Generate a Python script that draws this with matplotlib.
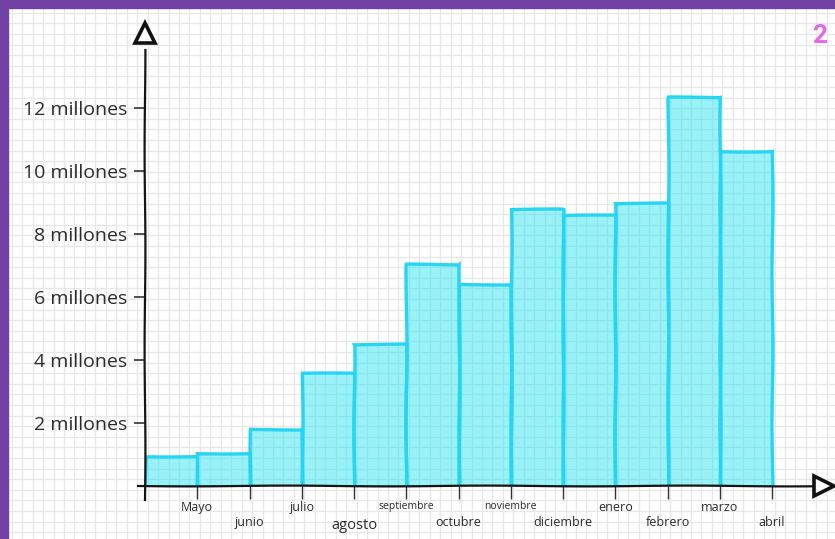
import matplotlib
matplotlib.use("Agg")
import matplotlib.pyplot as plt
from matplotlib.patches import Rectangle
import numpy as np

# datos (en millones)
meses = ["Mayo", "junio", "julio", "agosto", "septiembre", "octubre",
         "noviembre", "diciembre", "enero", "febrero", "marzo", "abril"]
valores = [0.95, 1.05, 1.8, 3.6, 4.5, 7.05, 6.4, 8.8, 8.6, 9.0, 12.35, 10.65]
y_ticks = [2, 4, 6, 8, 10, 12]
y_labels = [f"{v} millones" for v in y_ticks]

plt.rcParams["font.family"] = ["Open Sans", "DejaVu Sans"]

W, H = 835, 539
fig = plt.figure(figsize=(W / 100, H / 100), dpi=100)
fig.patch.set_facecolor("white")

# papel cuadriculado + borde morado
bg = fig.add_axes([0, 0, 1, 1])
bg.set_xlim(0, W)
bg.set_ylim(H, 0)
bg.axis("off")
for x in np.arange(1.3, W, 10.45):
    bg.axvline(x, color="#e7e7e7", lw=0.9, zorder=0)
for y in np.arange(2.3, H, 10.6):
    bg.axhline(y, color="#e7e7e7", lw=0.9, zorder=0)
purple = "#7041a3"
bg.add_patch(Rectangle((0, 0), W, 8, color=purple, zorder=1))
bg.add_patch(Rectangle((0, 0), 8, H, color=purple, zorder=1))

# grafico principal
x0, y0 = 145, 486          # origen en pixeles
px_x, px_y = 52.25, 31.5    # pixeles por unidad
right, top = 815, 50
ax = fig.add_axes([x0 / W, (H - y0) / H, (right - x0) / W, (y0 - top) / H])
ax.set_xlim(0, (right - x0) / px_x)
ax.set_ylim(0, (y0 - top) / px_y)
ax.patch.set_alpha(0)
for s in ax.spines.values():
    s.set_visible(False)

bars = ax.bar(np.arange(len(valores)), valores, width=1, align="edge",
              facecolor=(0.12, 0.89, 0.94, 0.45), edgecolor="#27d4f2",
              linewidth=2.4, zorder=2)
for b in bars:
    b.set_sketch_params(0.5, 150, 1)

# ejes dibujados a mano
xmax = (right - x0) / px_x
ymax = (y0 - top) / px_y
lx, = ax.plot([-0.13, xmax], [0, 0], color="#151515", lw=1.6, clip_on=False, zorder=3)
ly, = ax.plot([0, 0], [-0.45, ymax], color="#151515", lw=1.6, clip_on=False, zorder=3)
for l in (lx, ly):
    l.set_sketch_params(0.4, 200, 1)
ax.plot(xmax + 0.18, 0, marker=">", ms=14, mfc="white", mec="#111111", mew=2.6,
        clip_on=False, zorder=4)
ax.plot(0, (y0 - 33) / px_y, marker="^", ms=14, mfc="white", mec="#111111", mew=2.6,
        clip_on=False, zorder=4)

ax.set_yticks(y_ticks, y_labels)
ax.tick_params(axis="y", length=8, width=1.1, color="#222222", pad=5,
               labelsize=14, labelcolor="#2b2b2b")

xlabels = [m if i % 2 == 0 else "\n" + m for i, m in enumerate(meses)]
ax.set_xticks(np.arange(1, len(meses) + 1), xlabels)
ax.tick_params(axis="x", length=9, width=1.0, color="#333333", pad=2,
               labelsize=9, labelcolor="#2b2b2b")
for t in ax.get_xticklabels():
    if "agosto" in t.get_text():
        t.set_fontsize(10.5)
    if "noviembre" in t.get_text() or "septiembre" in t.get_text():
        t.set_fontsize(7.5)

fig.text(820 / W, 1 - 36 / H, "2", color="#e06ae6", fontsize=19, fontweight="bold",
         ha="center", va="center", family=["Roboto", "DejaVu Sans"])

fig.savefig("out.png", dpi=100)
